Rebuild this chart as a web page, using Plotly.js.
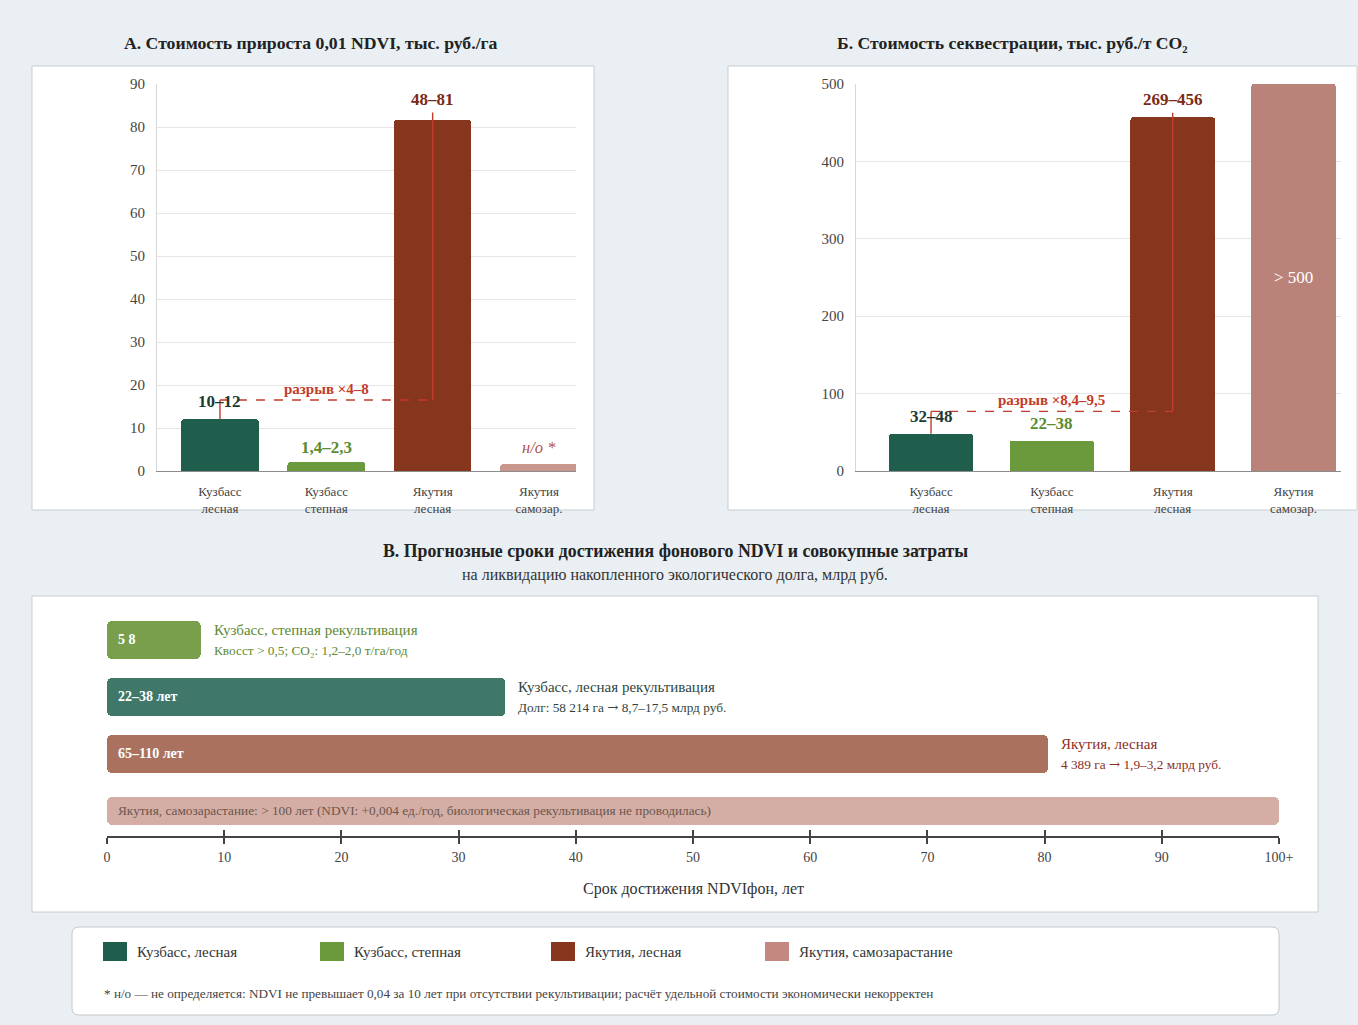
<!DOCTYPE html>
<html><head><meta charset="utf-8">
<script src="https://cdn.plot.ly/plotly-3.0.1.min.js"></script>
<style>html,body{margin:0;padding:0;background:#e9eff3;}#chart{width:1358px;height:1025px;}</style>
</head><body><div id="chart"></div>
<script>
// ---------- DATA ----------
const categories = ['Кузбасс<br>лесная','Кузбасс<br>степная','Якутия<br>лесная','Якутия<br>самозар.'];
const costNdvi = [12, 2.1, 81.6, 1.6];
const costNdviLabels = ['10–12','1,4–2,3','48–81','н/о *'];
const costCo2 = [48, 39, 457, 500];
const costCo2Labels = ['32–48','22–38','269–456','> 500'];
const gapLabels = ['разрыв ×4–8','разрыв ×8,4–9,5'];
const gapLevels = [16.5, 77];
const gapTops = [83.4, 463];

const ganttYears = [8, 34, 80.3, 100];
const ganttBarText = ['5 8','22–38 лет','65–110 лет','Якутия, самозарастание: > 100 лет (NDVI: +0,004 ед./год, биологическая рекультивация не проводилась)'];
const ganttTitles = ['Кузбасс, степная рекультивация','Кузбасс, лесная рекультивация','Якутия, лесная',''];
const ganttNotes = ['Квосст > 0,5; CO₂: 1,2–2,0 т/га/год','Долг: 58 214 га → 8,7–17,5 млрд руб.','4 389 га → 1,9–3,2 млрд руб.',''];
const timeTicks = [0,10,20,30,40,50,60,70,80,90,100];
const timeTickLabels = ['0','10','20','30','40','50','60','70','80','90','100+'];
const legendNames = ['Кузбасс, лесная','Кузбасс, степная','Якутия, лесная','Якутия, самозарастание'];

// ---------- STYLE ----------
const W = 1358, H = 1025;
const FONT = 'Liberation Serif, Times New Roman, serif';
const X = px => px / W;
const Y = py => 1 - py / H;
const colorsA = ['#1f5e4c','#6a9a3c','#87361e','#c9978e'];
const colorsB = ['#1f5e4c','#6a9a3c','#87361e','#b9837a'];
const labelColors = ['#1d3a32','#5b8b30','#7a2a17','#b0534a'];
const ganttColors = ['#7a9f4c','#3f7868','#a9715e','#d4aea4'];
const ganttTextColors = ['#ffffff','#ffffff','#ffffff','#6b5650'];
const ganttTitleColors = ['#5d8a33','#2f4640','#8b2e1e',''];
const legendColors = ['#1f5e4c','#6a9a3c','#87361e','#c48880'];
const RED = '#c23b2b';
const arrowFix = s => s.replace(/→/g, '<span style="font-family:DejaVu Serif">→</span>');

function roundRect(x0,y0,x1,y1,r){
  const rx = r/W, ry = r/H;
  const a=X(x0), b=X(x1), t=Y(y0), u=Y(y1);
  return `M${a+rx},${t} L${b-rx},${t} Q${b},${t} ${b},${t-ry} L${b},${u+ry} Q${b},${u} ${b-rx},${u} L${a+rx},${u} Q${a},${u} ${a},${u+ry} L${a},${t-ry} Q${a},${t} ${a+rx},${t} Z`;
}

const traces = [
  {type:'bar', x:categories, y:costNdvi, xaxis:'x', yaxis:'y', width:0.73,
   marker:{color:colorsA, cornerradius:3}, hoverinfo:'skip', showlegend:false},
  {type:'bar', x:categories, y:costCo2, xaxis:'x2', yaxis:'y2', width:0.70,
   marker:{color:colorsB, cornerradius:3}, hoverinfo:'skip', showlegend:false},
  {type:'bar', orientation:'h', x:ganttYears, y:ganttYears.map((_,i)=>i), base:0,
   xaxis:'x3', yaxis:'y3', width:[0.667,0.667,0.667,0.49],
   marker:{color:ganttColors, cornerradius:5}, hoverinfo:'skip', showlegend:false},
  {type:'scatter', x:[], y:[], xaxis:'x4', yaxis:'y3', showlegend:false, hoverinfo:'skip'}
];

const tickFont = {family:FONT, size:15, color:'#444'};
const catFont = {family:FONT, size:13, color:'#444'};

const layout = {
  width:W, height:H, autosize:false,
  margin:{l:0,r:0,t:0,b:0},
  paper_bgcolor:'#e9eff3', plot_bgcolor:'rgba(0,0,0,0)',
  font:{family:FONT},
  bargap:0,
  xaxis:{domain:[X(157),X(576)], range:[-0.592,3.348], anchor:'y', type:'category',
    showline:true, linecolor:'#8c8c8c', linewidth:1.2, ticks:'', tickfont:catFont,
    ticklabelstandoff:8, showgrid:false, zeroline:false, fixedrange:true},
  yaxis:{domain:[Y(471),Y(84)], range:[0,90], dtick:10, anchor:'x',
    showline:true, linecolor:'#d8d8d8', gridcolor:'#e6e6e6', zeroline:false,
    ticks:'', tickfont:tickFont, ticklabelstandoff:8, fixedrange:true},
  xaxis2:{domain:[X(856),X(1341)], range:[-0.621,3.393], anchor:'y2', type:'category',
    showline:true, linecolor:'#8c8c8c', linewidth:1.2, ticks:'', tickfont:catFont,
    ticklabelstandoff:8, showgrid:false, zeroline:false, fixedrange:true},
  yaxis2:{domain:[Y(471),Y(84)], range:[0,500], dtick:100, anchor:'x2',
    showline:true, linecolor:'#d8d8d8', gridcolor:'#e6e6e6', zeroline:false,
    ticks:'', tickfont:tickFont, ticklabelstandoff:8, fixedrange:true},
  xaxis3:{domain:[X(107),X(1279)], range:[0,100], anchor:'y3',
    showline:true, linecolor:'#444', linewidth:2, ticks:'outside', ticklen:6, tickwidth:2, tickcolor:'#444',
    tickmode:'array', tickvals:timeTicks, ticktext:timeTickLabels, tickfont:{family:FONT, size:14, color:'#444'},
    ticklabelstandoff:1, showgrid:false, zeroline:false, fixedrange:true},
  xaxis4:{overlaying:'x3', anchor:'y3', range:[0,100],
    showline:false, ticks:'inside', ticklen:6, tickwidth:2, tickcolor:'#444',
    tickmode:'array', tickvals:timeTicks, showticklabels:false, showgrid:false, zeroline:false, fixedrange:true},
  yaxis3:{domain:[Y(836),Y(611.5)], range:[3.44,-0.5], anchor:'x3', visible:false, fixedrange:true},
  shapes:[], annotations:[]
};

// panel boxes
const boxes = [[32,66,594,510],[728,66,1357,510],[32,596,1318,912]];
boxes.forEach(b=>layout.shapes.push({type:'rect', xref:'paper', yref:'paper', layer:'below',
  x0:X(b[0]), x1:X(b[2]), y0:Y(b[3]), y1:Y(b[1]), fillcolor:'#ffffff', line:{color:'#c9cdd0', width:1}}));
layout.shapes.push({type:'path', xref:'paper', yref:'paper', layer:'below',
  path:roundRect(72,927,1279,1015,7), fillcolor:'#ffffff', line:{color:'#c4c8cb', width:1}});

// gap connectors
function gap(xr, yr, vals, k){
  const s = {xref:xr, yref:yr, layer:'above'};
  layout.shapes.push(Object.assign({type:'line', x0:0, x1:0, y0:vals[0], y1:gapLevels[k], line:{color:RED, width:1.4}}, s));
  layout.shapes.push(Object.assign({type:'line', x0:0, x1:2, y0:gapLevels[k], y1:gapLevels[k], line:{color:RED, width:1.4, dash:'dash'}}, s));
  layout.shapes.push(Object.assign({type:'line', x0:2, x1:2, y0:gapLevels[k], y1:gapTops[k], line:{color:RED, width:1.4}}, s));
  layout.annotations.push({xref:xr, yref:yr, x:1, y:gapLevels[k], yshift:11, text:'<b>'+gapLabels[k]+'</b>',
    showarrow:false, font:{family:FONT, size:15, color:RED}});
}
gap('x','y',costNdvi,0);
gap('x2','y2',costCo2,1);

// bar labels
const shiftsA = [18,14,21,17];
costNdvi.forEach((v,i)=>{
  const txt = i===3 ? '<i>'+costNdviLabels[i]+'</i>' : '<b>'+costNdviLabels[i]+'</b>';
  layout.annotations.push({xref:'x', yref:'y', x:i, y:v, yshift:shiftsA[i], text:txt, showarrow:false,
    font:{family:FONT, size:i===3?16.5:17, color:labelColors[i]}});
});
costCo2.forEach((v,i)=>{
  if(i===3){
    layout.annotations.push({xref:'x2', yref:'y2', x:i, y:v/2, text:costCo2Labels[i], showarrow:false,
      font:{family:FONT, size:17, color:'#ffffff'}});
  } else {
    layout.annotations.push({xref:'x2', yref:'y2', x:i, y:v, yshift:[17,17,18][i], text:'<b>'+costCo2Labels[i]+'</b>', showarrow:false,
      font:{family:FONT, size:17, color:labelColors[i]}});
  }
});

// gantt inside labels and side notes
ganttYears.forEach((v,i)=>{
  layout.annotations.push({xref:'x3', yref:'y3', x:0, y:i, xanchor:'left', xshift:9,
    text: i===3 ? ganttBarText[i] : '<b>'+ganttBarText[i]+'</b>', showarrow:false,
    font:{family:FONT, size:i===3?13.3:14, color:ganttTextColors[i]}});
  if(ganttTitles[i]){
    layout.annotations.push({xref:'x3', yref:'y3', x:v, y:i, xanchor:'left', xshift:11, yshift:10,
      text:ganttTitles[i], showarrow:false, font:{family:FONT, size:15, color:ganttTitleColors[i]}});
    layout.annotations.push({xref:'x3', yref:'y3', x:v, y:i, xanchor:'left', xshift:11, yshift:-11,
      text:arrowFix(ganttNotes[i]), showarrow:false, font:{family:FONT, size:13.3, color:ganttTitleColors[i]}});
  }
});

// titles
const titles = [
  {x:311, y:43, t:'<b>А. Стоимость прироста 0,01 NDVI, тыс. руб./га</b>', s:17.7, c:'#222'},
  {x:1012, y:43, t:'<b>Б. Стоимость секвестрации, тыс. руб./т CO₂</b>', s:17.7, c:'#222'},
  {x:675, y:551, t:'<b>В. Прогнозные сроки достижения фонового NDVI и совокупные затраты</b>', s:17.8, c:'#222'},
  {x:675, y:575, t:'на ликвидацию накопленного экологического долга, млрд руб.', s:16, c:'#333'},
  {x:693, y:889, t:'Срок достижения NDVIфон, лет', s:16, c:'#333'}
];
titles.forEach(o=>layout.annotations.push({xref:'paper', yref:'paper', x:X(o.x), y:Y(o.y), text:o.t,
  showarrow:false, xanchor:'center', yanchor:'middle', font:{family:FONT, size:o.s, color:o.c}}));

// legend
const legX = [103, 320, 551, 765];
legendNames.forEach((n,i)=>{
  layout.shapes.push({type:'rect', xref:'paper', yref:'paper', x0:X(legX[i]), x1:X(legX[i]+24), y0:Y(961), y1:Y(942),
    fillcolor:legendColors[i], line:{width:0}});
  layout.annotations.push({xref:'paper', yref:'paper', x:X(legX[i]+32), y:Y(951.5), xanchor:'left', yanchor:'middle',
    text:n, showarrow:false, font:{family:FONT, size:15, color:'#333'}});
});
layout.annotations.push({xref:'paper', yref:'paper', x:X(102), y:Y(993), xanchor:'left', yanchor:'middle',
  text:'* н/о — не определяется: NDVI не превышает 0,04 за 10 лет при отсутствии рекультивации; расчёт удельной стоимости экономически некорректен',
  showarrow:false, font:{family:FONT, size:13.2, color:'#444'}});

Plotly.newPlot('chart', traces, layout, {displayModeBar:false, staticPlot:true});
</script></body></html>
